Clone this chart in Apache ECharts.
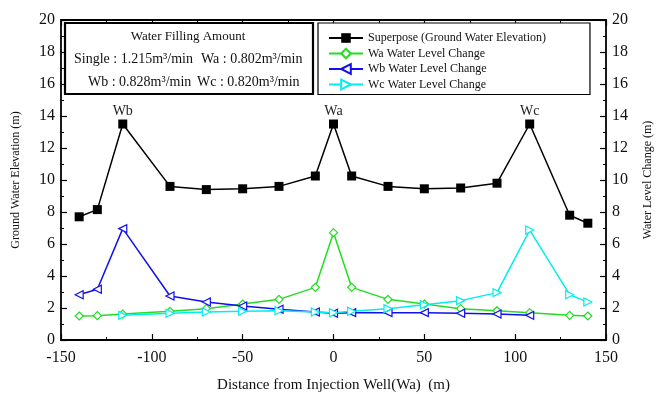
<!DOCTYPE html>
<html><head><meta charset="utf-8">
<script src="https://cdn.jsdelivr.net/npm/echarts@6/dist/echarts.min.js"></script>
<style>html,body{margin:0;padding:0;background:#fff}#c{width:662px;height:394px}</style>
</head><body><div id="c"></div>
<script>
const distance = [-140,-130,-116,-90,-70,-50,-30,-10,0,10,30,50,70,90,108,130,140];
const superpose = [7.7,8.15,13.5,9.6,9.4,9.45,9.6,10.25,13.5,10.25,9.6,9.45,9.5,9.8,13.5,7.8,7.3];
const waChange = [1.5,1.52,1.62,1.79,1.96,2.25,2.54,3.29,6.71,3.29,2.54,2.25,1.96,1.83,1.71,1.54,1.5];
const wbChange = [2.83,3.17,6.96,2.75,2.37,2.12,1.92,1.75,1.67,1.71,1.71,1.71,1.67,1.62,1.54,null,null];
const wcChange = [null,null,1.54,1.67,1.75,1.79,1.83,1.75,1.7,1.8,1.96,2.2,2.46,2.96,6.87,2.83,2.37];
const peakNames = {'-116':'Wb','0':'Wa','108':'Wc'};

const serif = 'Liberation Serif';
function pairs(vals, withLabels){
  return distance.map((d,i)=>{
    if(vals[i]==null) return [d,null];
    if(withLabels && peakNames[String(d)]){
      return {value:[d,vals[i]], label:{show:true, position:'top', formatter:peakNames[String(d)], fontFamily:serif, fontSize:14, color:'#222', distance:1}};
    }
    return [d,vals[i]];
  });
}
const chart = echarts.init(document.getElementById('c'));
function axisCommon(){
  return {
    axisLine:{show:true,onZero:false,lineStyle:{color:'#000',width:1.8}},
    axisTick:{show:true,inside:true,length:6,lineStyle:{color:'#000',width:1.2}},
    minorTick:{show:true,splitNumber:2,length:3,lineStyle:{color:'#000',width:1}},
    splitLine:{show:false}
  };
}
const leftPath = 'path://M0,5 L10,0 L10,10 Z';
const rightPath = 'path://M10,5 L0,0 L0,10 Z';
chart.setOption({
  animation:false,
  backgroundColor:'#fff',
  grid:{left:61,right:56,top:20,bottom:54,containLabel:false,outerBoundsMode:'none'},
  legend:{
    orient:'vertical', left:318, top:23,
    padding:[9,44,4,10], itemGap:3.5, itemWidth:34, itemHeight:12,
    borderColor:'#000', borderWidth:1.2, backgroundColor:'#fff',
    textStyle:{fontFamily:serif,fontSize:12,color:'#111'},
    data:['Superpose (Ground Water Elevation)','Wa Water Level Change','Wb Water Level Change','Wc Water Level Change']
  },
  xAxis:[
    Object.assign(axisCommon(),{type:'value',min:-150,max:150,interval:50,position:'bottom',
      name:'Distance from Injection Well(Wa)  (m)', nameLocation:'middle', nameGap:38,
      nameTextStyle:{fontFamily:serif,fontSize:15,color:'#111'},
      axisLabel:{fontFamily:serif,fontSize:16,color:'#111',margin:10}}),
    Object.assign(axisCommon(),{type:'value',min:-150,max:150,interval:50,position:'top',axisLabel:{show:false}})
  ],
  yAxis:[
    Object.assign(axisCommon(),{type:'value',min:0,max:20,interval:2,position:'left',
      name:'Ground Water Elevation (m)', nameLocation:'middle', nameGap:39,
      nameTextStyle:{fontFamily:serif,fontSize:12,color:'#111'},
      axisLabel:{fontFamily:serif,fontSize:16,color:'#111',margin:6}}),
    Object.assign(axisCommon(),{type:'value',min:0,max:20,interval:2,position:'right',
      name:'Water Level Change (m)', nameLocation:'middle', nameGap:36, nameRotate:90,
      nameTextStyle:{fontFamily:serif,fontSize:12,color:'#111'},
      axisLabel:{fontFamily:serif,fontSize:16,color:'#111',margin:6}})
  ],
  graphic:[
    {type:'rect',shape:{x:65,y:23,width:248,height:71},style:{fill:'#fff',stroke:'#000',lineWidth:2.2},z:100},
    {type:'text',style:{text:'Water Filling Amount',x:188,y:30,textAlign:'center',font:'13px "Liberation Serif"',fill:'#111'},z:101},
    {type:'text',style:{text:'Single : 1.215m³/min',x:74,y:52,font:'14px "Liberation Serif"',fill:'#111'},z:101},
    {type:'text',style:{text:'Wa : 0.802m³/min',x:201,y:52,font:'14px "Liberation Serif"',fill:'#111'},z:101},
    {type:'text',style:{text:'Wb : 0.828m³/min',x:88,y:75,font:'14px "Liberation Serif"',fill:'#111'},z:101},
    {type:'text',style:{text:'Wc : 0.820m³/min',x:197,y:75,font:'14px "Liberation Serif"',fill:'#111'},z:101}
  ],
  series:[
    {name:'Superpose (Ground Water Elevation)',type:'line',xAxisIndex:0,yAxisIndex:0,data:pairs(superpose,true),
      symbol:'rect',symbolSize:9,itemStyle:{color:'#000'},lineStyle:{color:'#000',width:1.5}},
    {name:'Wa Water Level Change',type:'line',xAxisIndex:0,yAxisIndex:1,data:pairs(waChange,false),
      symbol:'diamond',symbolSize:8,itemStyle:{color:'#fff',borderColor:'#22dd22',borderWidth:1.2},lineStyle:{color:'#22dd22',width:1.5}},
    {name:'Wb Water Level Change',type:'line',xAxisIndex:0,yAxisIndex:1,data:pairs(wbChange,false),
      symbol:leftPath,symbolSize:8,itemStyle:{color:'#fff',borderColor:'#1010ee',borderWidth:1.2},lineStyle:{color:'#1010ee',width:1.5}},
    {name:'Wc Water Level Change',type:'line',xAxisIndex:0,yAxisIndex:1,data:pairs(wcChange,false),
      symbol:rightPath,symbolSize:8,itemStyle:{color:'#fff',borderColor:'#00eeee',borderWidth:1.2},lineStyle:{color:'#00eeee',width:1.5}}
  ]
});
</script></body></html>
